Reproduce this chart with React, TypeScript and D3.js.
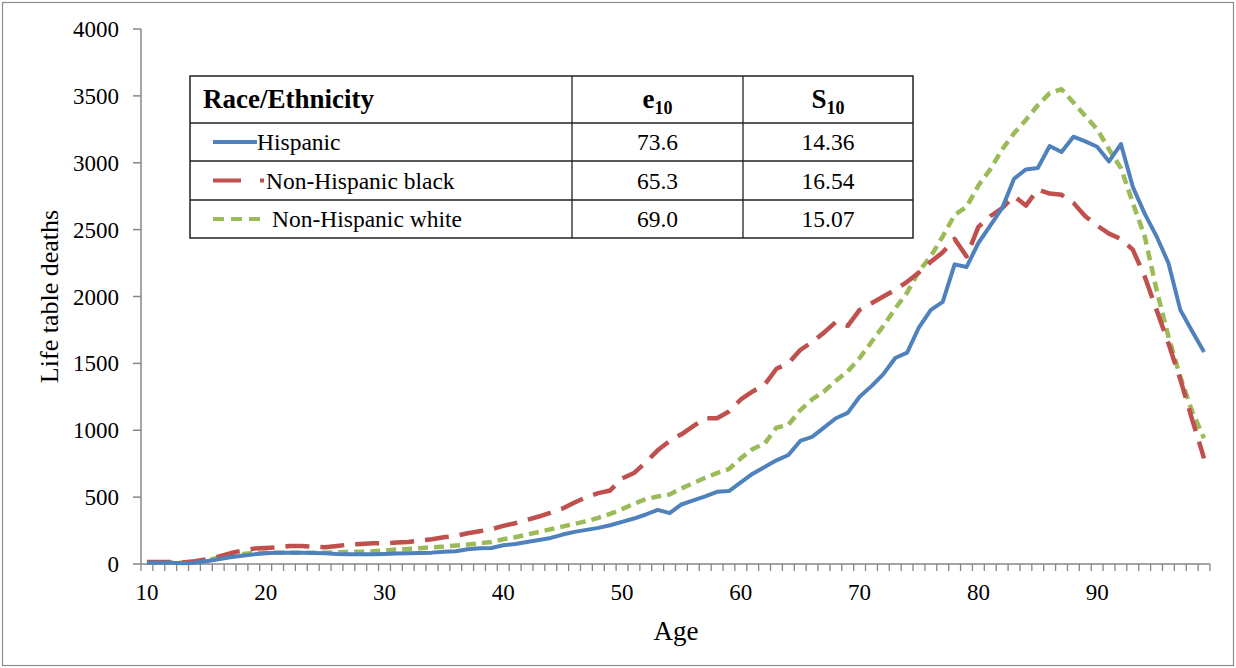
import React from "react";
import * as d3 from "d3";

const ages: number[] = d3.range(10, 100);

const hispanic: number[] = [
  10, 10, 10, 5, 10, 20, 35, 50, 62, 72,
  80, 85, 85, 85, 82, 80, 75, 72, 72, 72,
  75, 78, 80, 82, 85, 92, 95, 110, 118, 120,
  140, 150, 165, 180, 195, 220, 240, 255, 270, 290,
  315, 340, 370, 405, 380, 445, 475, 505, 540, 545,
  610, 675, 725, 775, 815, 920, 950, 1020, 1090, 1130,
  1250, 1330, 1420, 1540, 1580, 1770, 1900, 1960, 2240, 2220,
  2400, 2530, 2660, 2880, 2950, 2960, 3125, 3080, 3195, 3160,
  3120, 3010, 3140, 2820, 2620, 2450, 2250, 1900, 1740, 1585,
];

const nhBlack: number[] = [
  15, 15, 15, 12, 20, 35, 55, 80, 100, 115,
  120, 125, 135, 135, 130, 125, 135, 145, 150, 155,
  155, 160, 165, 175, 185, 200, 210, 230, 245, 260,
  285, 305, 330, 355, 385, 415, 460, 500, 530, 550,
  640, 680, 760, 850, 920, 970, 1030, 1090, 1090, 1140,
  1230, 1290, 1340, 1460, 1500, 1600, 1660, 1730, 1810, 1780,
  1900, 1950, 2000, 2050, 2110, 2180, 2260, 2330, 2430, 2300,
  2520, 2600, 2660, 2750, 2680, 2800, 2770, 2760, 2700, 2600,
  2530, 2470, 2430, 2350, 2150, 1900, 1650, 1380, 1080, 790,
];

const nhWhite: number[] = [
  10, 10, 10, 10, 15, 30, 45, 60, 75, 82,
  85, 85, 85, 85, 85, 85, 88, 90, 92, 95,
  100, 108, 112, 118, 125, 130, 138, 145, 155, 165,
  185, 200, 220, 240, 260, 280, 300, 320, 345, 375,
  410, 450, 485, 505, 520, 565, 605, 645, 680, 710,
  790, 860, 900, 1020, 1040, 1150, 1230, 1290, 1370, 1440,
  1540, 1660, 1780, 1910, 2030, 2190, 2300, 2450, 2610, 2670,
  2830, 2950, 3100, 3220, 3320, 3430, 3520, 3550, 3450, 3350,
  3250, 3100, 2960, 2700, 2450, 2050, 1700, 1400, 1140, 940,
];

const yTicks: number[] = [0, 500, 1000, 1500, 2000, 2500, 3000, 3500, 4000];
const xLabelAges: number[] = [10, 20, 30, 40, 50, 60, 70, 80, 90];

const tableGroups: string[] = ["Hispanic", "Non-Hispanic black", "Non-Hispanic white"];
const tableE10: string[] = ["73.6", "65.3", "69.0"];
const tableS10: string[] = ["14.36", "16.54", "15.07"];

const BLUE = "#4F81BD";
const RED = "#C0504D";
const GREEN = "#9BBB59";
const AXIS = "#878787";
const FONT = "'Liberation Serif', 'Times New Roman', serif";

export default function App() {
  const W = 1236;
  const H = 668;
  const left = 141;
  const right = 1210;
  const top = 29;
  const bottom = 564;

  const x = d3.scaleBand<number>().domain(ages).range([left, right]).paddingInner(0).paddingOuter(0);
  const y = d3.scaleLinear().domain([0, 4000]).range([bottom, top]);
  const cx = (a: number) => (x(a) as number) + x.bandwidth() / 2;

  const line = (vals: number[]) =>
    d3.line<number>().x((_, i) => cx(ages[i])).y((v) => y(v)).curve(d3.curveLinear)(vals) || "";

  const boundaries = d3.range(0, ages.length + 1).map((i) => left + i * x.bandwidth());

  // Table geometry
  const tL = 190, tR = 913, c1 = 572, c2 = 743;
  const rows = [76, 123, 161, 200, 238];
  const col1Mid = (c1 + c2) / 2;
  const col2Mid = (c2 + tR) / 2;

  return (
    <svg width={W} height={H} style={{ position: "absolute", left: 0, top: 0, background: "#fff" }} fontFamily={FONT}>
      <rect x={0} y={0} width={W} height={H} fill="#fff" />
      <rect x={2.5} y={2.5} width={W - 5} height={H - 5} fill="none" stroke="#8c8c8c" strokeWidth={1.2} />

      {/* Y axis */}
      <line x1={left} x2={left} y1={top} y2={bottom} stroke={AXIS} strokeWidth={1.5} />
      {yTicks.map((t) => (
        <g key={"y" + t}>
          <line x1={left - 8} x2={left} y1={y(t)} y2={y(t)} stroke={AXIS} strokeWidth={1.5} />
          <text x={left - 22} y={y(t)} dy="0.35em" textAnchor="end" fontSize={23} fill="#000">
            {t}
          </text>
        </g>
      ))}

      {/* X axis */}
      <line x1={left} x2={right} y1={bottom} y2={bottom} stroke={AXIS} strokeWidth={1.5} />
      {boundaries.map((bx, i) => (
        <line key={"xt" + i} x1={bx} x2={bx} y1={bottom} y2={bottom + 7} stroke={AXIS} strokeWidth={1.3} />
      ))}
      {xLabelAges.map((a) => (
        <text key={"xl" + a} x={cx(a)} y={600} textAnchor="middle" fontSize={23} fill="#000">
          {a}
        </text>
      ))}

      <text x={676} y={640} textAnchor="middle" fontSize={27} fill="#000">
        Age
      </text>
      <text
        transform={`translate(58, ${(top + bottom) / 2}) rotate(-90)`}
        textAnchor="middle"
        fontSize={26}
        fill="#000"
      >
        Life table deaths
      </text>

      {/* Series */}
      <path d={line(nhWhite)} fill="none" stroke={GREEN} strokeWidth={4.5} strokeDasharray="10 6" strokeLinejoin="round" />
      <path d={line(nhBlack)} fill="none" stroke={RED} strokeWidth={4.5} strokeDasharray="24 11" strokeLinejoin="round" />
      <path d={line(hispanic)} fill="none" stroke={BLUE} strokeWidth={4} strokeLinejoin="round" />

      {/* Table */}
      <rect x={tL} y={rows[0]} width={tR - tL} height={rows[4] - rows[0]} fill="#fff" stroke="#222" strokeWidth={1.5} />
      {rows.slice(1, 4).map((ry, i) => (
        <line key={"r" + i} x1={tL} x2={tR} y1={ry} y2={ry} stroke="#222" strokeWidth={1.3} />
      ))}
      <line x1={c1} x2={c1} y1={rows[0]} y2={rows[4]} stroke="#222" strokeWidth={1.3} />
      <line x1={c2} x2={c2} y1={rows[0]} y2={rows[4]} stroke="#222" strokeWidth={1.3} />

      <text x={203} y={108} fontSize={27} fontWeight="bold" fill="#000">
        Race/Ethnicity
      </text>
      <text x={col1Mid} y={108} textAnchor="middle" fontSize={27} fontWeight="bold" fill="#000">
        e<tspan fontSize={18} dy={6}>10</tspan>
      </text>
      <text x={col2Mid} y={108} textAnchor="middle" fontSize={27} fontWeight="bold" fill="#000">
        S<tspan fontSize={18} dy={6}>10</tspan>
      </text>

      {tableGroups.map((g, i) => {
        const my = (rows[i + 1] + rows[i + 2]) / 2;
        return (
          <g key={"tg" + i}>
            {i === 0 && <line x1={213} x2={257} y1={my} y2={my} stroke={BLUE} strokeWidth={4} />}
            {i === 1 && (
              <g>
                <line x1={213} x2={241} y1={my} y2={my} stroke={RED} strokeWidth={4} />
                <line x1={260} x2={264} y1={my} y2={my} stroke={RED} strokeWidth={4} />
              </g>
            )}
            {i === 2 && (
              <line x1={213} x2={263} y1={my} y2={my} stroke={GREEN} strokeWidth={4} strokeDasharray="11 7" />
            )}
            <text x={i === 0 ? 257 : i === 1 ? 266 : 272} y={my} dy="0.35em" fontSize={23.5} fill="#000">
              {g}
            </text>
            <text x={col1Mid} y={my} dy="0.35em" textAnchor="middle" fontSize={23.5} fill="#000">
              {tableE10[i]}
            </text>
            <text x={col2Mid} y={my} dy="0.35em" textAnchor="middle" fontSize={23.5} fill="#000">
              {tableS10[i]}
            </text>
          </g>
        );
      })}
    </svg>
  );
}
